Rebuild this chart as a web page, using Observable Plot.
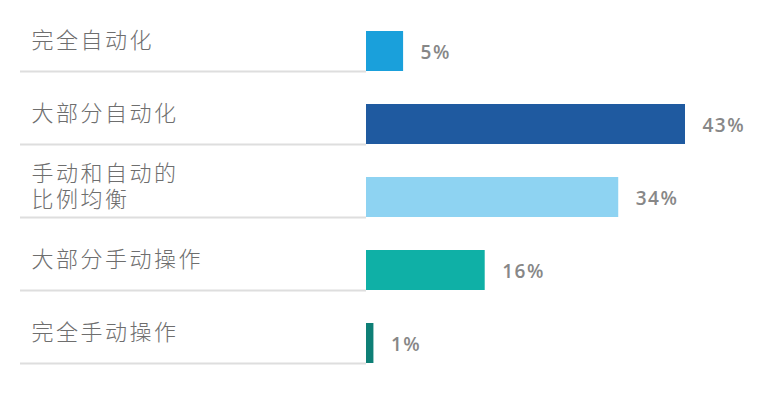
<!DOCTYPE html>
<html>
<head>
<meta charset="utf-8">
<script src="https://cdn.jsdelivr.net/npm/d3@7"></script>
<script src="https://cdn.jsdelivr.net/npm/@observablehq/plot@0.6"></script>
<style>
  html, body { margin: 0; padding: 0; background: #fff; }
  #chart { width: 781px; height: 394px; }
  .cat-labels text { letter-spacing: 2.5px; }
  .val-labels text { letter-spacing: 1.5px; }
</style>
</head>
<body>
<div id="chart"></div>
<script>
const categories = ["完全自动化", "大部分自动化", "手动和自动的\n比例均衡", "大部分手动操作", "完全手动操作"];
const values = [5, 43, 34, 16, 1];
const palette = ["#1aa0db", "#1f5aa0", "#8ed3f2", "#0fb0a6", "#0e7f76"];

const data = categories.map((c, i) => ({cat: c, value: values[i]}));

const chart = Plot.plot({
  width: 781,
  height: 394,
  marginLeft: 366,
  marginRight: 96,
  marginTop: 30,
  marginBottom: 30,
  style: {background: "#fff"},
  x: {domain: [0, 43], axis: null},
  y: {domain: categories, paddingInner: 0.456, paddingOuter: 0, axis: null, label: null},
  color: {domain: categories, range: palette},
  marks: [
    Plot.axisY({tickSize: 346, dy: 20, label: null, tickFormat: () => "", stroke: "#dedede", strokeWidth: 2}),
    Plot.barX(data, {x: "value", y: "cat", fill: "cat"}),
    Plot.text(data, {
      y: "cat", text: "cat", frameAnchor: "left", textAnchor: "start",
      dx: -335, dy: -12, lineHeight: 1.18, className: "cat-labels",
      fontFamily: "Noto Sans CJK SC", fontWeight: 300, fontSize: 22, fill: "#6e6e6e"
    }),
    Plot.text(data, {
      x: "value", y: "cat", text: d => d.value + "%", textAnchor: "start", className: "val-labels",
      dx: 17, dy: 1, fontFamily: "Open Sans", fontWeight: 600, fontSize: 19, fill: "#878787"
    })
  ]
});
document.getElementById("chart").append(chart);
</script>
</body>
</html>
